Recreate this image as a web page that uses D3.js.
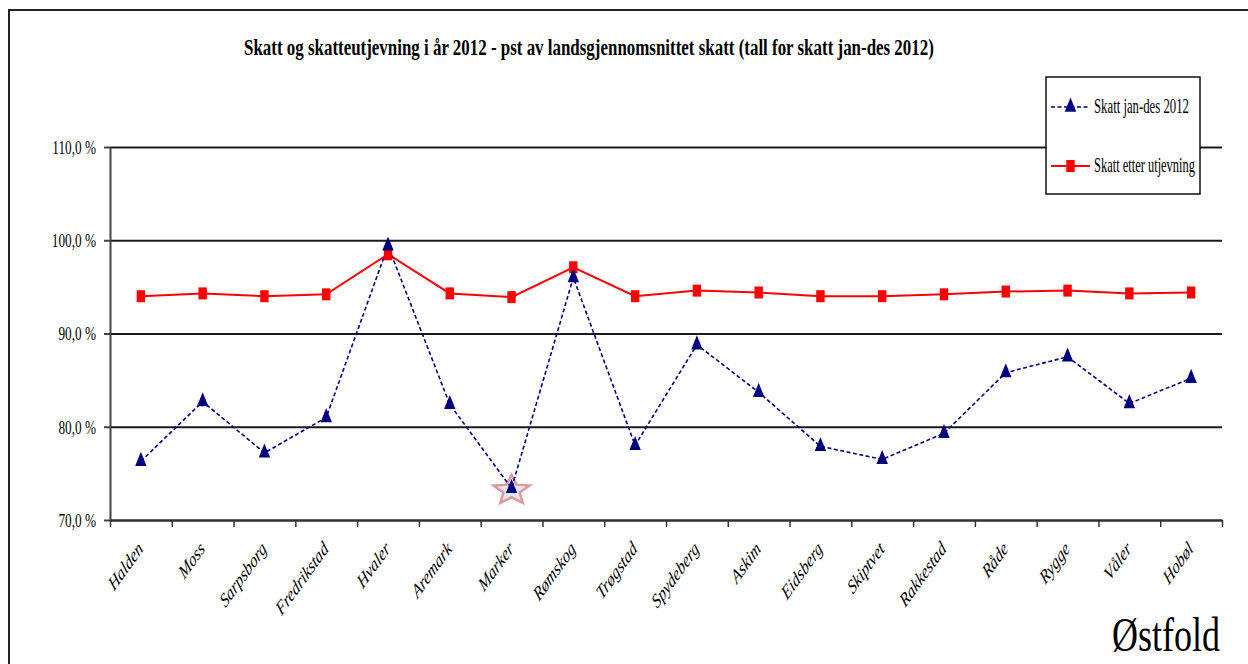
<!DOCTYPE html>
<html>
<head>
<meta charset="utf-8">
<script src="https://cdn.jsdelivr.net/npm/d3@7"></script>
<style>
  html, body { margin: 0; padding: 0; background: #fff; }
  svg { display: block; }
  text { font-family: "Liberation Serif", "Times New Roman", serif; fill: #000; }
</style>
</head>
<body>
<svg id="chart" width="1248" height="664"></svg>
<script>
// Kommuner i Østfold
const kommuner = ["Halden", "Moss", "Sarpsborg", "Fredrikstad", "Hvaler", "Aremark", "Marker",
  "Rømskog", "Trøgstad", "Spydeberg", "Askim", "Eidsberg", "Skiptvet", "Rakkestad",
  "Råde", "Rygge", "Våler", "Hobøl"];

// Skatt jan-des 2012, pst av landsgjennomsnittet
const skattJanDes = [76.3, 82.7, 77.2, 81.0, 99.4, 82.4, 73.4, 96.0, 78.0, 88.8,
  83.7, 77.9, 76.5, 79.3, 85.8, 87.5, 82.5, 85.2];

// Skatt etter utjevning, pst av landsgjennomsnittet
const skattEtterUtjevning = [94.0, 94.3, 94.0, 94.2, 98.5, 94.3, 93.9, 97.1, 94.0, 94.6,
  94.4, 94.0, 94.0, 94.2, 94.5, 94.6, 94.3, 94.4];

const yTicks = [70, 80, 90, 100, 110];
const seriesNames = ["Skatt jan-des 2012", "Skatt etter utjevning"];
const tittel = "Skatt og skatteutjevning i år 2012 - pst av landsgjennomsnittet skatt (tall for skatt jan-des 2012)";
const fylke = "Østfold";
const uthevet = "Marker";

const SX = 0.72; // narrow glyph width of the rotated category labels

const svg = d3.select("#chart");

// text squeezed horizontally to a given width
function narrowText(parent, x, y, width, size, str, weight) {
  const g = parent.append("g");
  const t = g.append("text").attr("font-size", size).text(str);
  if (weight) t.attr("font-weight", weight);
  const natural = t.node().getComputedTextLength();
  g.attr("transform", `translate(${x},${y}) scale(${width / natural},1)`);
  return t;
}

// outer frame
svg.append("rect")
  .attr("x", 9).attr("y", 10).attr("width", 1260).attr("height", 700)
  .attr("fill", "none").attr("stroke", "#222").attr("stroke-width", 2);

const plotLeft = 110, plotRight = 1222, plotTop = 147, plotBottom = 520;

const x = d3.scaleBand().domain(kommuner).range([plotLeft, plotRight]).paddingInner(0).paddingOuter(0);
const cx = d => x(d) + x.bandwidth() / 2;
const y = d3.scaleLinear().domain([70, 110]).range([plotBottom, plotTop]);

// horizontal gridlines
const grid = svg.append("g").attr("transform", `translate(${plotLeft},0)`)
  .call(d3.axisLeft(y).tickValues(yTicks).tickSize(-(plotRight - plotLeft)).tickFormat(""));
grid.select(".domain").remove();
grid.selectAll(".tick line").attr("stroke", "#1a1a1a").attr("stroke-width", 2);

// y axis line and tick marks
const yAxis = svg.append("g").attr("transform", `translate(${plotLeft},0)`)
  .call(d3.axisLeft(y).tickValues(yTicks).tickSize(6).tickSizeOuter(0).tickFormat(""));
yAxis.select(".domain").attr("stroke", "#444").attr("stroke-width", 2);
yAxis.selectAll(".tick line").attr("stroke", "#444").attr("stroke-width", 2);

// y tick labels
const fmt = v => v.toFixed(1).replace(".", ",") + " %";
svg.append("g").selectAll("g").data(yTicks).join("g")
  .attr("transform", d => `translate(96,${y(d)}) scale(0.68,1)`)
  .append("text")
  .attr("text-anchor", "end").attr("dy", "0.35em")
  .attr("font-size", 19.5)
  .text(fmt);

// x axis with tick marks on category boundaries
const xb = d3.scaleLinear().domain([0, kommuner.length]).range([plotLeft, plotRight]);
const xAxis = svg.append("g").attr("transform", `translate(0,${plotBottom})`)
  .call(d3.axisBottom(xb).tickValues(d3.range(kommuner.length + 1)).tickSize(7).tickSizeOuter(0).tickFormat(""));
xAxis.select(".domain").attr("stroke", "#333").attr("stroke-width", 2);
xAxis.selectAll(".tick line").attr("stroke", "#333").attr("stroke-width", 1.5);

// rotated category labels
svg.append("g").selectAll("g").data(kommuner).join("g")
  .attr("transform", d => `translate(${cx(d) + 3},${plotBottom + 30}) scale(${SX},1) rotate(-45)`)
  .append("text")
  .attr("text-anchor", "end")
  .attr("font-size", 20).attr("font-style", "italic")
  .text(d => d);

// highlight star behind the lowest value
const starPts = [];
for (let i = 0; i < 10; i++) {
  const r = i % 2 === 0 ? 1 : 0.45;
  const a = -Math.PI / 2 + i * Math.PI / 5;
  starPts.push([Math.cos(a) * r * 19, Math.sin(a) * r * 15.5]);
}
const iu = kommuner.indexOf(uthevet);
svg.append("path")
  .attr("d", "M" + starPts.map(p => p.join(",")).join("L") + "Z")
  .attr("transform", `translate(${cx(uthevet)},${y(skattJanDes[iu]) + 2})`)
  .attr("fill", "#dfe7f3").attr("stroke", "#dd9a9a").attr("stroke-width", 2.5);

// lines
const line = d3.line().x((d, i) => cx(kommuner[i])).y(d => y(d));

svg.append("path").datum(skattEtterUtjevning)
  .attr("d", line).attr("fill", "none").attr("stroke", "#ff0000").attr("stroke-width", 2);

svg.append("path").datum(skattJanDes)
  .attr("d", line).attr("fill", "none").attr("stroke", "#000080")
  .attr("stroke-width", 1.6).attr("stroke-dasharray", "4,2.5");

// markers
const squareSym = d3.symbol().type(d3.symbolSquare).size(144);
const triSym = d3.symbol().type(d3.symbolTriangle).size(115);

svg.append("g").selectAll("path").data(skattEtterUtjevning).join("path")
  .attr("transform", (d, i) => `translate(${cx(kommuner[i])},${y(d)}) scale(0.7,1)`)
  .attr("d", squareSym).attr("fill", "#ff0000");

svg.append("g").selectAll("path").data(skattJanDes).join("path")
  .attr("transform", (d, i) => `translate(${cx(kommuner[i])},${y(d)}) scale(0.7,1)`)
  .attr("d", triSym).attr("fill", "#000080");

// title
narrowText(svg, 244, 55, 690, 23, tittel, "bold");

// legend
const lg = svg.append("g").attr("transform", "translate(1046,77)");
lg.append("rect").attr("width", 154).attr("height", 117)
  .attr("fill", "#fff").attr("stroke", "#111").attr("stroke-width", 1.5);

const legendRows = [
  { name: seriesNames[0], yy: 30, color: "#000080", dash: "4,2.5", sym: triSym, sc: 0.7, len: 95 },
  { name: seriesNames[1], yy: 89, color: "#ff0000", dash: null, sym: squareSym, sc: 0.7, len: 101 }
];
legendRows.forEach(r => {
  lg.append("line").attr("x1", 5).attr("x2", 44).attr("y1", r.yy).attr("y2", r.yy)
    .attr("stroke", r.color).attr("stroke-width", r.dash ? 1.6 : 2)
    .attr("stroke-dasharray", r.dash);
  lg.append("path").attr("d", r.sym)
    .attr("transform", `translate(24.5,${r.yy}) scale(${r.sc},1)`)
    .attr("fill", r.color);
  narrowText(lg, 48, r.yy + 6, r.len, 20, r.name);
});

// county name
narrowText(svg, 1112, 651, 108, 48, fylke);
</script>
</body>
</html>
